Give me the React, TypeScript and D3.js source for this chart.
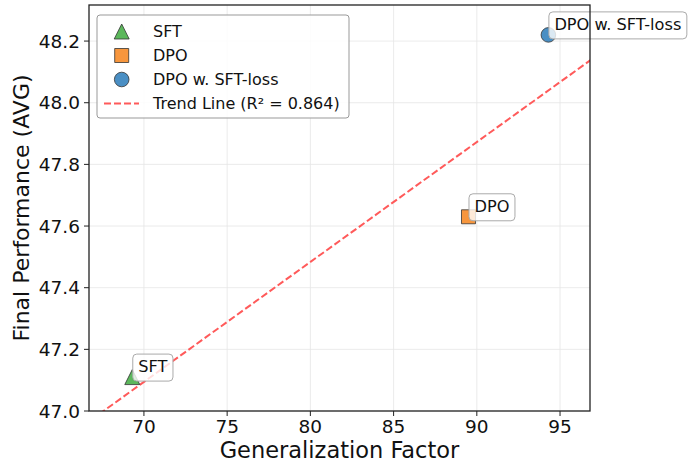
import React from "react";
import * as d3 from "d3";

const methods = ["SFT", "DPO", "DPO w. SFT-loss"];
const genFactor = [69.3, 89.5, 94.3];
const finalPerf = [47.11, 47.63, 48.22];
const colors = ["#5cb85c", "#f7963d", "#4a8fc4"];
const shapes = ["triangle", "square", "circle"];
const xTicks = [70, 75, 80, 85, 90, 95];
const yTicks = [47.0, 47.2, 47.4, 47.6, 47.8, 48.0, 48.2];
const r2Label = "0.864";

const W = 691, H = 462;
const M = { left: 89, right: 590, top: 5, bottom: 411 };
const FONT = "DejaVu Sans, sans-serif";

function Marker({ shape, x, y, color }: { shape: string; x: number; y: number; color: string }) {
  let d = "";
  if (shape === "triangle") {
    const a = 7.5;
    d = `M0,${-a}L${-a},${a}L${a},${a}Z`;
  } else if (shape === "square") {
    const a = 7;
    d = `M${-a},${-a}H${a}V${a}H${-a}Z`;
  } else {
    d = d3.symbol().type(d3.symbolCircle).size(Math.PI * 7.3 * 7.3)() || "";
  }
  return <path d={d} transform={`translate(${x},${y})`} fill={color} stroke="#333" strokeWidth={0.8} />;
}

function Annot({ text, x, y }: { text: string; x: number; y: number }) {
  const ref = React.useRef<SVGTextElement>(null);
  const [w, setW] = React.useState(0);
  React.useLayoutEffect(() => {
    if (ref.current) setW(ref.current.getComputedTextLength());
  }, [text]);
  return (
    <g>
      <rect
        x={x - 5.5}
        y={y - 18}
        width={w + 11}
        height={27}
        rx={4}
        fill="#fff"
        fillOpacity={0.8}
        stroke="#aaa"
        strokeWidth={1}
      />
      <text ref={ref} x={x} y={y} fontSize={16.2} fill="#111">
        {text}
      </text>
    </g>
  );
}

export default function App() {
  const x = d3.scaleLinear().domain([66.7, 96.8]).range([M.left, M.right]);
  const y = d3.scaleLinear().domain([47.0, 48.317]).range([M.bottom, M.top]);

  // least-squares trend line
  const mx = d3.mean(genFactor) as number;
  const my = d3.mean(finalPerf) as number;
  let sxy = 0, sxx = 0;
  genFactor.forEach((g, i) => {
    sxy += (g - mx) * (finalPerf[i] - my);
    sxx += (g - mx) * (g - mx);
  });
  const slope = sxy / sxx;
  const intercept = my - slope * mx;
  const lineX = [60, 100];
  const line = d3
    .line<number>()
    .x((d) => x(d))
    .y((d) => y(slope * d + intercept));

  const legendY = (i: number) => 31.5 + i * 24;

  return (
    <svg width={W} height={H} style={{ position: "absolute", left: 0, top: 0, fontFamily: FONT }}>
      <defs>
        <clipPath id="plot">
          <rect x={M.left} y={M.top} width={M.right - M.left} height={M.bottom - M.top} />
        </clipPath>
      </defs>
      <rect width={W} height={H} fill="#fff" />
      {xTicks.map((t) => (
        <line key={"gx" + t} x1={x(t)} x2={x(t)} y1={M.top} y2={M.bottom} stroke="#e6e6e6" strokeWidth={0.8} />
      ))}
      {yTicks.map((t) => (
        <line key={"gy" + t} x1={M.left} x2={M.right} y1={y(t)} y2={y(t)} stroke="#e6e6e6" strokeWidth={0.8} />
      ))}
      <path
        d={line(lineX) || ""}
        clipPath="url(#plot)"
        fill="none"
        stroke="#ff5a5a"
        strokeWidth={2}
        strokeDasharray="7,3"
      />
      {methods.map((m, i) => (
        <Marker key={m} shape={shapes[i]} x={x(genFactor[i])} y={y(finalPerf[i])} color={colors[i]} />
      ))}
      {methods.map((m, i) => (
        <Annot key={"a" + m} text={m} x={x(genFactor[i]) + 6} y={y(finalPerf[i]) - 5} />
      ))}
      <rect
        x={M.left}
        y={M.top}
        width={M.right - M.left}
        height={M.bottom - M.top}
        fill="none"
        stroke="#222"
        strokeWidth={1.3}
      />
      {xTicks.map((t) => (
        <g key={"xt" + t}>
          <line x1={x(t)} x2={x(t)} y1={M.bottom} y2={M.bottom + 5} stroke="#222" strokeWidth={1} />
          <text x={x(t)} y={433} textAnchor="middle" fontSize={18.5} fill="#111">
            {t}
          </text>
        </g>
      ))}
      {yTicks.map((t) => (
        <g key={"yt" + t}>
          <line x1={M.left - 5} x2={M.left} y1={y(t)} y2={y(t)} stroke="#222" strokeWidth={1} />
          <text x={80} y={y(t)} dy="0.36em" textAnchor="end" fontSize={18.5} fill="#111">
            {t.toFixed(1)}
          </text>
        </g>
      ))}
      <text x={(M.left + M.right) / 2} y={458} textAnchor="middle" fontSize={22.5} fill="#111">
        Generalization Factor
      </text>
      <text
        transform={`translate(29,${(M.top + M.bottom) / 2}) rotate(-90)`}
        textAnchor="middle"
        fontSize={22}
        fill="#111"
      >
        Final Performance (AVG)
      </text>
      <g>
        <rect x={97} y={15} width={252} height={103} rx={3} fill="#fff" fillOpacity={0.85} stroke="#999" strokeWidth={1} />
        {methods.map((m, i) => (
          <g key={"l" + m}>
            <Marker shape={shapes[i]} x={121.7} y={legendY(i)} color={colors[i]} />
            <text x={153} y={legendY(i)} dy="0.36em" fontSize={16} fill="#111">
              {m}
            </text>
          </g>
        ))}
        <line x1={104} x2={139} y1={legendY(3)} y2={legendY(3)} stroke="#ff5a5a" strokeWidth={2} strokeDasharray="7,3" />
        <text x={153} y={legendY(3)} dy="0.36em" fontSize={16} fill="#111">
          {`Trend Line (R² = ${r2Label})`}
        </text>
      </g>
    </svg>
  );
}
